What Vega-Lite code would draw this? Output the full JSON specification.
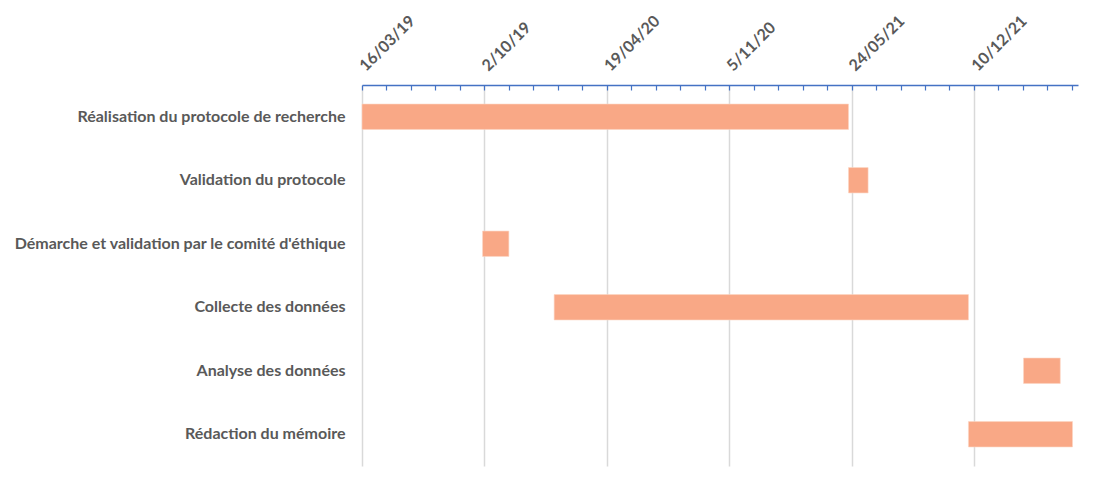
{
  "$schema": "https://vega.github.io/schema/vega-lite/v6.json",
  "width": 716,
  "height": 381,
  "autosize": {"type": "none"},
  "padding": {"left": 362, "top": 85, "right": 16, "bottom": 14},
  "background": "white",
  "config": {"view": {"stroke": null}, "font": "Lato"},
  "data": {
    "values": [
      {"task": "Réalisation du protocole de recherche", "start": "2019-03-16", "end": "2021-05-19"},
      {"task": "Validation du protocole", "start": "2021-05-19", "end": "2021-06-20"},
      {"task": "Démarche et validation par le comité d'éthique", "start": "2019-09-29", "end": "2019-11-11"},
      {"task": "Collecte des données", "start": "2020-01-24", "end": "2021-12-01"},
      {"task": "Analyse des données", "start": "2022-03-01", "end": "2022-04-30"},
      {"task": "Rédaction du mémoire", "start": "2021-12-01", "end": "2022-05-20"}
    ]
  },
  "mark": {"type": "bar", "color": "#F9A886", "stroke": "#FCD5C3", "strokeWidth": 0.6},
  "encoding": {
    "y": {
      "field": "task",
      "type": "nominal",
      "sort": null,
      "scale": {"paddingInner": 0.6, "paddingOuter": 0.3},
      "axis": {
        "title": null,
        "ticks": false,
        "domain": false,
        "labelFont": "Lato",
        "labelFontWeight": "bold",
        "labelFontSize": 16,
        "labelColor": "#595959",
        "labelPadding": 17,
        "labelLimit": 400
      }
    },
    "x": {
      "field": "start",
      "type": "temporal",
      "scale": {
        "type": "utc",
        "nice": false,
        "domain": [
          {"year": 2019, "month": 3, "date": 16, "utc": true},
          {"year": 2022, "month": 5, "date": 29, "utc": true}
        ]
      },
      "axis": {
        "orient": "top",
        "title": null,
        "values": [
          {"year": 2019, "month": 3, "date": 16, "utc": true},
          {"year": 2019, "month": 4, "date": 25, "utc": true},
          {"year": 2019, "month": 6, "date": 4, "utc": true},
          {"year": 2019, "month": 7, "date": 14, "utc": true},
          {"year": 2019, "month": 8, "date": 23, "utc": true},
          {"year": 2019, "month": 10, "date": 2, "utc": true},
          {"year": 2019, "month": 11, "date": 11, "utc": true},
          {"year": 2019, "month": 12, "date": 21, "utc": true},
          {"year": 2020, "month": 1, "date": 30, "utc": true},
          {"year": 2020, "month": 3, "date": 10, "utc": true},
          {"year": 2020, "month": 4, "date": 19, "utc": true},
          {"year": 2020, "month": 5, "date": 29, "utc": true},
          {"year": 2020, "month": 7, "date": 8, "utc": true},
          {"year": 2020, "month": 8, "date": 17, "utc": true},
          {"year": 2020, "month": 9, "date": 26, "utc": true},
          {"year": 2020, "month": 11, "date": 5, "utc": true},
          {"year": 2020, "month": 12, "date": 15, "utc": true},
          {"year": 2021, "month": 1, "date": 24, "utc": true},
          {"year": 2021, "month": 3, "date": 5, "utc": true},
          {"year": 2021, "month": 4, "date": 14, "utc": true},
          {"year": 2021, "month": 5, "date": 24, "utc": true},
          {"year": 2021, "month": 7, "date": 3, "utc": true},
          {"year": 2021, "month": 8, "date": 12, "utc": true},
          {"year": 2021, "month": 9, "date": 21, "utc": true},
          {"year": 2021, "month": 10, "date": 31, "utc": true},
          {"year": 2021, "month": 12, "date": 10, "utc": true},
          {"year": 2022, "month": 1, "date": 19, "utc": true},
          {"year": 2022, "month": 2, "date": 28, "utc": true},
          {"year": 2022, "month": 4, "date": 9, "utc": true},
          {"year": 2022, "month": 5, "date": 19, "utc": true}
        ],
        "labelExpr": "round((datum.value - utc(2019,2,16)) / 86400000) % 200 === 0 ? utcFormat(datum.value, '%-d/%m/%y') : ''",
        "labelAngle": -45,
        "labelAlign": "left",
        "labelBaseline": "middle",
        "labelPadding": 22,
        "labelFont": "Lato",
        "labelFontWeight": "bold",
        "labelFontSize": 16,
        "labelColor": "#595959",
        "labelOverlap": false,
        "labelFlush": false,
        "domainColor": "#4472C4",
        "domainWidth": 1.5,
        "tickColor": "#4472C4",
        "tickWidth": 1.2,
        "tickSize": -5,
        "grid": true,
        "gridColor": "#D9D9D9",
        "gridWidth": 1.5,
        "gridOpacity": {
          "condition": {"test": "round((datum.value - utc(2019,2,16)) / 86400000) % 200 === 0", "value": 1},
          "value": 0
        }
      }
    },
    "x2": {"field": "end"}
  }
}
